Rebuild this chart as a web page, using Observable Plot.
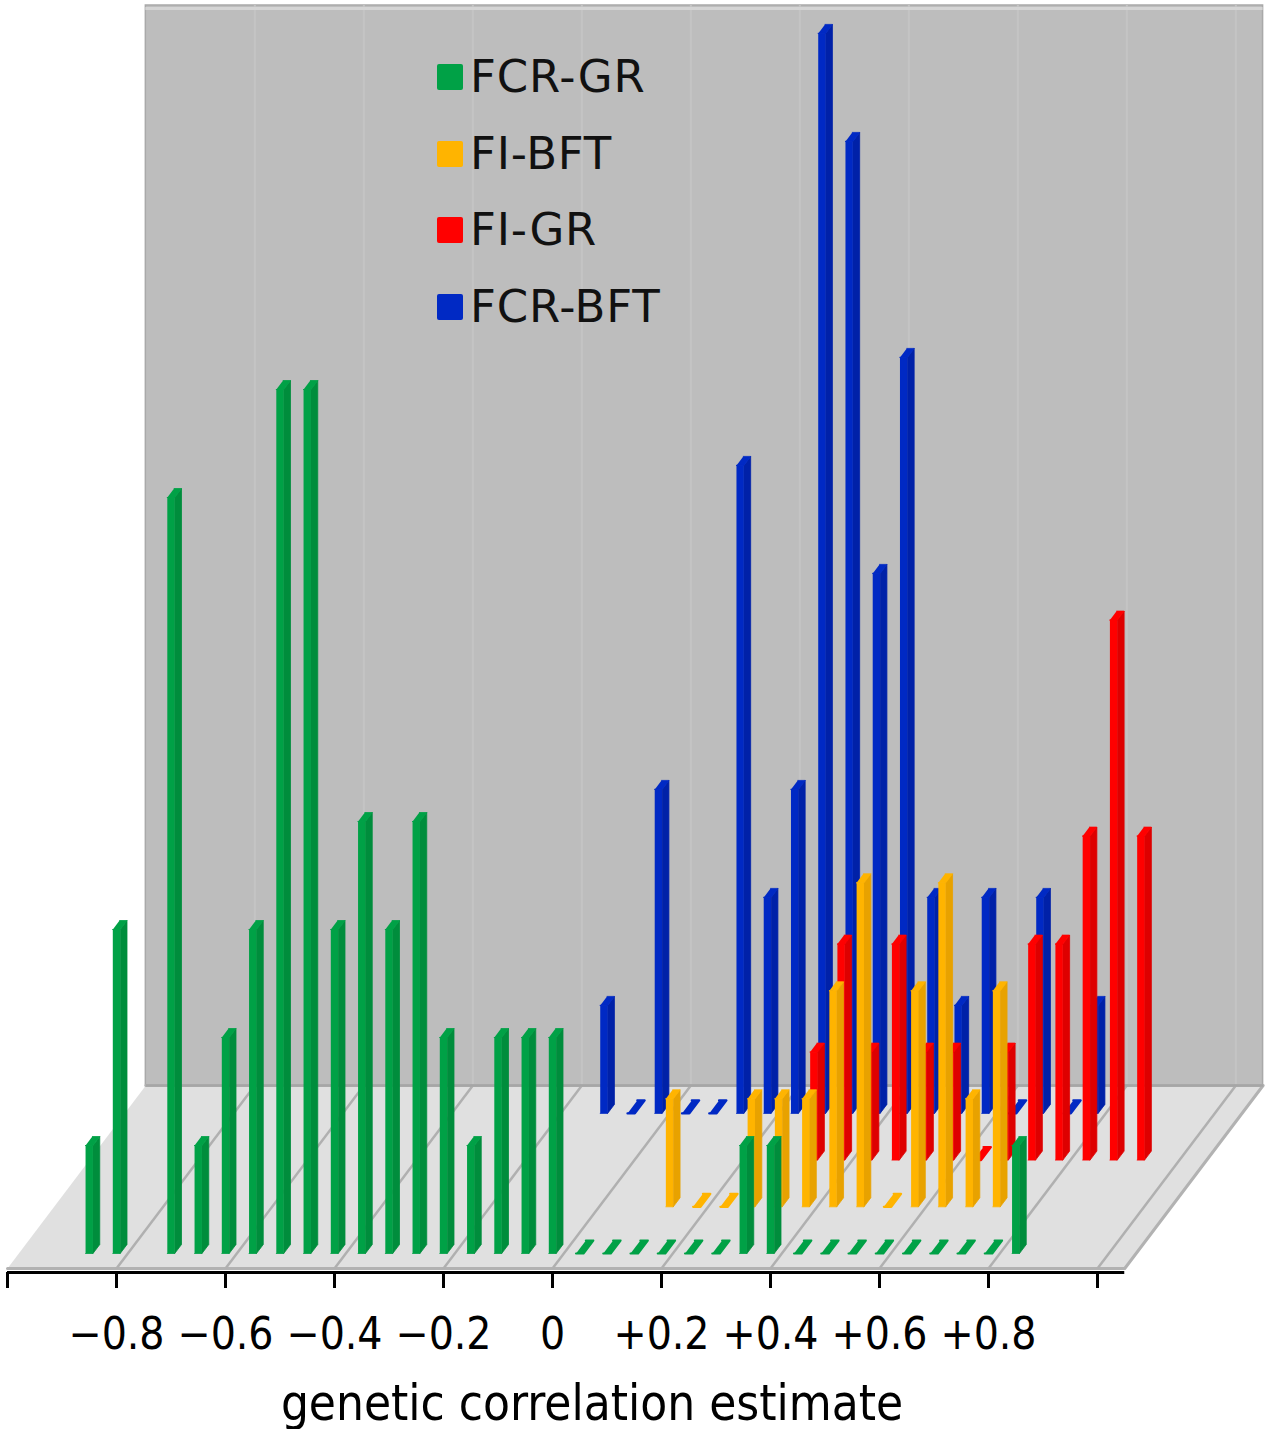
<!DOCTYPE html>
<html>
<head>
<meta charset="utf-8">
<script src="https://cdn.jsdelivr.net/npm/d3@7"></script>
<script src="https://cdn.jsdelivr.net/npm/@observablehq/plot@0.6"></script>
<style>
  html, body { margin: 0; padding: 0; background: #ffffff; }
  #wrap { position: relative; width: 1267px; height: 1429px; }
  .legend-sq { position: absolute; width: 26px; height: 26px; border-radius: 2px; }
  .legend-tx { position: absolute; font-family: "DejaVu Sans", Verdana, sans-serif; font-size: 45px; line-height: 45px; letter-spacing: 0.8px; color: #111; white-space: nowrap; }
</style>
</head>
<body>
<div id="wrap"><div id="chart"></div></div>
<script>
// ---------------- data ----------------
const bins = [-0.85, -0.80, -0.75, -0.70, -0.65, -0.60, -0.55, -0.50, -0.45, -0.40,
              -0.35, -0.30, -0.25, -0.20, -0.15, -0.10, -0.05, 0.00, 0.05, 0.10,
               0.15,  0.20,  0.25,  0.30,  0.35,  0.40,  0.45, 0.50, 0.55, 0.60,
               0.65,  0.70,  0.75,  0.80,  0.85,  0.90,  0.95];

const seriesNames  = ["FCR-GR", "FI-BFT", "FI-GR", "FCR-BFT"];
const seriesColors = ["#00a146", "#ffb400", "#ff0000", "#0029c4"];
const seriesSides  = ["#008d3c", "#e8a200", "#de0000", "#0021a8"];

// counts of estimates per bin (null = no column drawn)
const fcrGR  = [1, 3, null, 7, 1, 2, 3, 8, 8, 3, 4, 3, 4, 2, 1, 2, 2, 2,
                0, 0, 0, 0, 0, 0, 1, 1, 0, 0, 0, 0, 0, 0, 0, 0, 1, null, null];
const fiBFT  = [null, null, null, null, null, null, null, null, null, null,
                null, null, null, null, null, null, null, null, null, null,
                1, 0, 0, 1, 1, 1, 2, 3, 0, 2, 3, 1, 2, null, null, null, null];
const fiGR   = [null, null, null, null, null, null, null, null, null, null,
                null, null, null, null, null, null, null, null, null, null,
                null, null, null, null, 1, 2, 1, 2, 1, 1, 0, 1, 2, 2, 3, 5, 3];
const fcrBFT = [null, null, null, null, null, null, null, null, null, null,
                null, null, null, null, null, 1, 0, 3, 0, 0,
                6, 2, 3, 10, 9, 5, 7, 2, 1, 2, 0, 2, 0, 1, null, null, null];

const xTicks   = [-1.0, -0.8, -0.6, -0.4, -0.2, 0, 0.2, 0.4, 0.6, 0.8, 1.0];
const gridVals = [-0.8, -0.6, -0.4, -0.2, 0, 0.2, 0.4, 0.6, 0.8, 1.0];
const xTitle   = "genetic correlation estimate";

// ---------------- layout constants ----------------
const W = 1267, H = 1429;
const PXU = 545;           // px per correlation unit
const ZERO = 552;          // px of 0
const CNT = 108;           // px per count
const BASE = 1253;         // px of front-row base
const AXISPX = 1272;       // px of axis line
const KX = 0.756 / PXU, KY = 1 / CNT;     // oblique depth (per px of vertical depth)
const rowDepth = [0, 46.7, 93.4, 140.1];  // FCR-GR (front) ... FCR-BFT (back)
const HW = 3.7 / PXU, BD = 9;             // half front width, column depth
const SD = 13;                            // depth of zero-count slabs
const FLOOR_Y0 = -15 / CNT, FLOOR_D = 183;
const floorMin = -1.0, floorMax = 1.05;
const wallTop = (BASE - 5) / CNT;

const P = (v, c, d) => ({x: v + d * KX, y: c + d * KY});
const F = (v, d) => ({x: v + d * KX, y: FLOOR_Y0 + d * KY});

function faces(series, r) {
  const front = [], side = [], top = [], stub = [];
  bins.forEach((v, i) => {
    const c = series[i];
    if (c == null) return;
    const d0 = rowDepth[r], a = v - HW, b = v + HW;
    if (c > 0) {
      const d1 = d0 + BD;
      [P(a, 0, d0), P(b, 0, d0), P(b, c, d0), P(a, c, d0)].forEach(p => front.push({...p, id: i}));
      [P(b, 0, d0), P(b, 0, d1), P(b, c, d1), P(b, c, d0)].forEach(p => side.push({...p, id: i}));
      [P(a, c, d0), P(b, c, d0), P(b, c, d1), P(a, c, d1)].forEach(p => top.push({...p, id: i}));
    } else {
      const d1 = d0 + SD;
      [P(a, 0, d0), P(b, 0, d0), P(b, 0, d1), P(a, 0, d1)].forEach(p => stub.push({...p, id: i}));
    }
  });
  return {front, side, top, stub};
}

const allSeries = [fcrGR, fiBFT, fiGR, fcrBFT];

const floorPoly = [F(floorMin, 0), F(floorMax, 0), F(floorMax, FLOOR_D), F(floorMin, FLOOR_D)].map(p => ({...p, id: 0}));
const wallBottom = F(0, FLOOR_D).y;
const wallX1 = F(floorMin, FLOOR_D).x, wallX2 = F(floorMax, FLOOR_D).x;

const marks = [];
// back wall
marks.push(Plot.rect([0], {x1: () => wallX1, x2: () => wallX2, y1: () => wallBottom, y2: () => wallTop,
  fill: "#bdbdbd", stroke: "#a9a9a9", strokeWidth: 1.5}));
marks.push(Plot.ruleX(gridVals.map(v => F(v, FLOOR_D).x), {y1: wallBottom, y2: wallTop, stroke: "#c4c4c4", strokeWidth: 2}));
marks.push(Plot.ruleY([wallTop], {x1: wallX1, x2: wallX2, stroke: "#d4d4d4", strokeWidth: 3, dy: 3}));
// floor
marks.push(Plot.line(floorPoly, {x: "x", y: "y", z: "id", fill: "#e0e0e0", stroke: "#b2b2b2", strokeWidth: 3}));
marks.push(Plot.link(gridVals, {x1: v => F(v, 0).x, y1: v => F(v, 0).y, x2: v => F(v, FLOOR_D).x, y2: v => F(v, FLOOR_D).y,
  stroke: "#b0b0b0", strokeWidth: 2.5}));
marks.push(Plot.link([0], {x1: () => F(floorMin, FLOOR_D).x, y1: () => F(floorMin, FLOOR_D).y, x2: () => F(floorMax, FLOOR_D).x, y2: () => F(floorMax, FLOOR_D).y,
  stroke: "#a6a6a6", strokeWidth: 2.5}));

// columns, back row first
for (let r = 3; r >= 0; r--) {
  const f = faces(allSeries[r], r);
  marks.push(Plot.line(f.stub,  {x: "x", y: "y", z: "id", fill: seriesColors[r], stroke: seriesColors[r], strokeWidth: 2.2, strokeLinejoin: "round"}));
  marks.push(Plot.line(f.front, {x: "x", y: "y", z: "id", fill: seriesColors[r], stroke: seriesColors[r], strokeWidth: 0.8}));
  marks.push(Plot.line(f.side,  {x: "x", y: "y", z: "id", fill: seriesSides[r],  stroke: seriesSides[r],  strokeWidth: 0.8}));
  marks.push(Plot.line(f.top,   {x: "x", y: "y", z: "id", fill: seriesColors[r], stroke: seriesColors[r], strokeWidth: 0.8}));
}

// axis
const fmt = v => Math.abs(v) > 0.99 ? "" : (v === 0 ? "0" : (v > 0 ? "+" : "\u2212") + Math.abs(v).toFixed(1));
marks.push(Plot.ruleY([(BASE - AXISPX) / CNT], {x1: floorMin, x2: floorMax, stroke: "#000", strokeWidth: 3}));
marks.push(Plot.axisX({ticks: xTicks, tickFormat: fmt, tickSize: 16, tickPadding: 29, strokeWidth: 3,
  fontSize: 44, fontFamily: "'DejaVu Sans Condensed', 'DejaVu Sans', sans-serif", label: null, color: "#000"}));
marks.push(Plot.text([xTitle], {text: d => d, frameAnchor: "bottom", dx: -42, dy: 147, fontSize: 49,
  fontFamily: "'DejaVu Sans Condensed', 'DejaVu Sans', sans-serif", fill: "#000"}));

const chart = Plot.plot({
  width: W, height: H,
  marginLeft: 0, marginRight: 0, marginTop: 0, marginBottom: H - AXISPX,
  x: {domain: [-ZERO / PXU, (W - ZERO) / PXU], axis: null},
  y: {domain: [(BASE - AXISPX) / CNT, BASE / CNT], axis: null},
  style: {background: "transparent", overflow: "visible", fontFamily: "'DejaVu Sans', sans-serif"},
  marks
});
document.getElementById("chart").appendChild(chart);

// legend overlay
const wrap = document.getElementById("wrap");
seriesNames.forEach((name, i) => {
  const sq = document.createElement("div");
  sq.className = "legend-sq";
  sq.style.left = "437px";
  sq.style.top = (64 + i * 76.5) + "px";
  sq.style.background = seriesColors[i];
  wrap.appendChild(sq);
  const tx = document.createElement("div");
  tx.className = "legend-tx";
  tx.style.left = "470px";
  tx.style.top = (54 + i * 76.5) + "px";
  tx.textContent = name;
  wrap.appendChild(tx);
});
</script>
</body>
</html>
